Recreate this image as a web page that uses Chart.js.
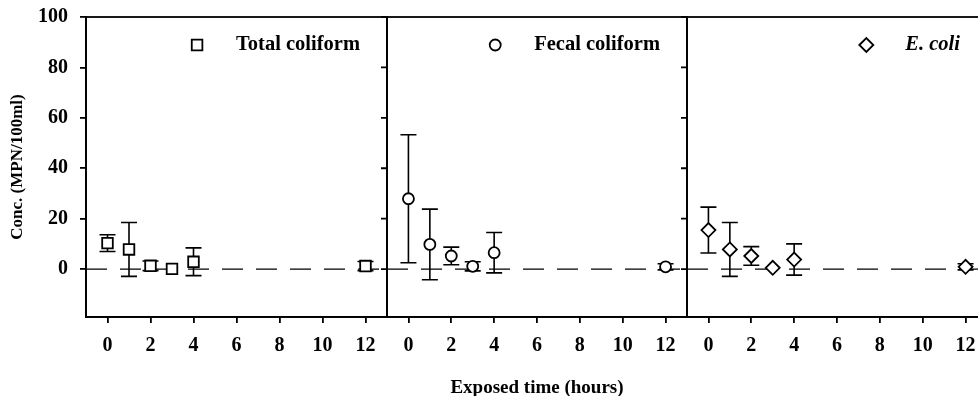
<!DOCTYPE html>
<html>
<head>
<meta charset="utf-8">
<script src="https://cdn.jsdelivr.net/npm/chart.js@4.4.1/dist/chart.umd.min.js"></script>
<style>
body { margin: 0; width: 978px; height: 396px; overflow: hidden; background: #fff; position: relative; }
.panel { position: absolute; top: 0; height: 396px; }
</style>
</head>
<body>
<div class="panel" style="left:0;width:392px"><canvas id="totalChart"></canvas></div>
<div class="panel" style="left:377px;width:320px"><canvas id="fecalChart"></canvas></div>
<div class="panel" style="left:677px;width:320px"><canvas id="ecoliChart"></canvas></div>
<script>
// data
const hours = [0, 1, 2, 3, 4, 12];
const totalMean = [10.3, 7.8, 1.3, 0.1, 2.9, 1.2];
const totalErr = [3.3, 10.7, 1.9, 0, 5.5, 1.8];
const fecalMean = [27.9, 9.8, 5.2, 1.1, 6.5, 0.9];
const fecalErr = [25.4, 14, 3.5, 1.8, 8, 1.2];
const ecoliMean = [15.5, 7.8, 5.2, 0.5, 3.8, 0.9];
const ecoliErr = [9.1, 10.7, 3.7, 0, 6.2, 1.2];
const xTicks = [0, 2, 4, 6, 8, 10, 12];
const yTicks = [0, 20, 40, 60, 80, 100];
const xRange = [-1, 13];
const yRange = [-19, 100];

Chart.defaults.font.family = "'Liberation Serif', 'Times New Roman', serif";
Chart.defaults.font.weight = 'bold';
Chart.defaults.color = '#000';

// error bars under the markers
const errorBars = {
    id: 'errorBars',
    beforeDatasetsDraw(chart) {
        const {ctx, scales: {x, y}} = chart;
        ctx.save();
        ctx.strokeStyle = '#000';
        ctx.lineWidth = 1.6;
        chart.data.datasets.forEach(ds => {
            if (!ds.errors) return;
            ds.data.forEach((p, i) => {
                const e = ds.errors[i];
                if (!e) return;
                const px = x.getPixelForValue(p.x);
                const top = y.getPixelForValue(p.y + e);
                const bot = y.getPixelForValue(p.y - e);
                ctx.beginPath();
                ctx.moveTo(px, top); ctx.lineTo(px, bot);
                ctx.moveTo(px - 8, top); ctx.lineTo(px + 8, top);
                ctx.moveTo(px - 8, bot); ctx.lineTo(px + 8, bot);
                ctx.stroke();
            });
        });
        ctx.restore();
    }
};

// box, inner right ticks, legend
const frame = {
    id: 'frame',
    afterDraw(chart, args, opts) {
        const {ctx, chartArea: a, scales: {y}} = chart;
        ctx.save();
        ctx.strokeStyle = '#000';
        ctx.lineWidth = 1.8;
        ctx.strokeRect(a.left, a.top, a.right - a.left, a.bottom - a.top);
        ctx.beginPath();
        yTicks.forEach(v => {
            const py = y.getPixelForValue(v);
            ctx.moveTo(a.right, py);
            ctx.lineTo(a.right - 6, py);
        });
        ctx.stroke();

        const ds = chart.data.datasets[0];
        ctx.font = (opts.italic ? 'italic ' : '') + "bold 20.5px 'Liberation Serif', serif";
        ctx.textBaseline = 'middle';
        ctx.textAlign = 'left';
        ctx.fillStyle = '#000';
        const w = ctx.measureText(ds.label).width;
        const tx = a.right - 27 - w;
        const ty = a.top + 28;
        ctx.fillText(ds.label, tx, ty);
        ctx.fillStyle = '#fff';
        ctx.lineWidth = ds.pointBorderWidth;
        Chart.helpers.drawPoint(ctx, {
            pointStyle: ds.pointStyle,
            radius: ds.pointRadius,
            borderWidth: ds.pointBorderWidth,
            rotation: 0
        }, tx - 39, ty);
        ctx.restore();
    }
};

function makeChart(id, label, mean, err, style, radius, opt) {
    return new Chart(document.getElementById(id), {
        type: 'scatter',
        data: {
            datasets: [{
                label: label,
                data: hours.map((h, i) => ({x: h, y: mean[i]})),
                errors: err,
                pointStyle: style,
                pointRadius: radius,
                pointHoverRadius: radius,
                pointBorderWidth: 1.8,
                pointBorderColor: '#000',
                pointBackgroundColor: '#fff',
                showLine: false
            }, {
                label: 'zero',
                type: 'line',
                data: [{x: xRange[0], y: 0}, {x: xRange[1], y: 0}],
                borderColor: '#000',
                borderWidth: 1.4,
                borderDash: [21, 13],
                pointRadius: 0
            }]
        },
        options: {
            responsive: true,
            maintainAspectRatio: false,
            animation: false,
            layout: { padding: opt.padding, autoPadding: false },
            plugins: {
                legend: { display: false },
                tooltip: { enabled: false },
                frame: { italic: opt.italic }
            },
            scales: {
                x: {
                    type: 'linear',
                    min: xRange[0],
                    max: xRange[1],
                    afterBuildTicks: s => { s.ticks = xTicks.map(v => ({value: v})); },
                    afterFit: s => { s.height = 79; s.paddingLeft = 0; s.paddingRight = 0; },
                    grid: { drawOnChartArea: false, drawTicks: true, tickLength: 6, color: '#000', lineWidth: 1.8 },
                    border: { display: true, color: '#000', width: 1.8 },
                    ticks: { font: { size: 20, weight: 'bold' }, padding: 11, maxRotation: 0 },
                    title: {
                        display: !!opt.xTitle,
                        text: opt.xTitle || '',
                        font: { size: 19, weight: 'bold', lineHeight: 0.8 },
                        padding: 0
                    }
                },
                y: {
                    display: !!opt.yTitle,
                    min: yRange[0],
                    max: yRange[1],
                    afterBuildTicks: s => { s.ticks = yTicks.map(v => ({value: v})); },
                    afterFit: s => {
                        if (opt.yTitle) s.width = 86;
                        s.paddingTop = 0;
                        s.paddingBottom = 0;
                    },
                    grid: { drawOnChartArea: false, drawTicks: true, tickLength: 6, color: '#000', lineWidth: 1.8 },
                    border: { display: true, color: '#000', width: 1.8 },
                    ticks: { font: { size: 20, weight: 'bold' }, padding: 12 },
                    title: {
                        display: !!opt.yTitle,
                        text: opt.yTitle || '',
                        font: { size: 17, weight: 'bold' },
                        padding: { top: 7, bottom: 0 }
                    }
                }
            }
        },
        plugins: [errorBars, frame]
    });
}

const total = makeChart('totalChart', 'Total coliform', totalMean, totalErr, 'rect', 7.5,
    { padding: {left: 0, right: 5, top: 17, bottom: 0}, yTitle: 'Conc. (MPN/100ml)' });
const fecal = makeChart('fecalChart', 'Fecal coliform', fecalMean, fecalErr, 'circle', 5.5,
    { padding: {left: 10, right: 10, top: 17, bottom: 0}, xTitle: 'Exposed time (hours)' });
const ecoli = makeChart('ecoliChart', 'E. coli', ecoliMean, ecoliErr, 'rectRot', 7,
    { padding: {left: 10, right: 10, top: 17, bottom: 0}, italic: true });
</script>
</body>
</html>
